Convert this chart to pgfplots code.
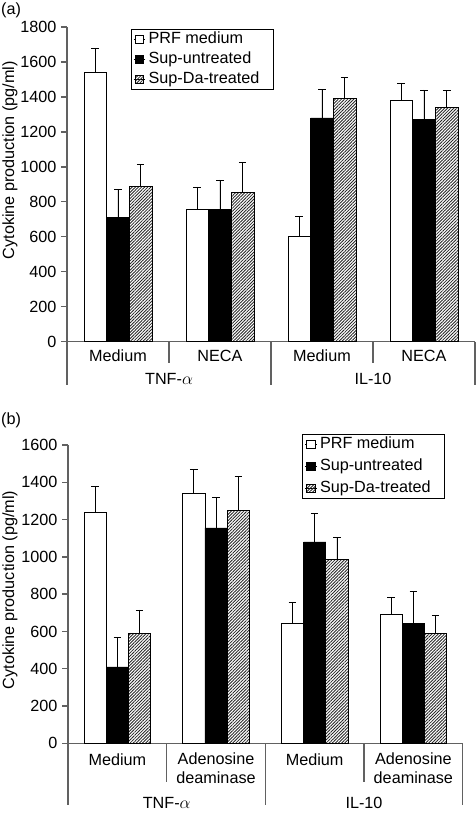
\documentclass[border=0pt]{standalone}
\usepackage{pgfplots}
\pgfplotsset{compat=1.18}
\usepackage{fontspec}
\setmainfont{Liberation Sans}
\usetikzlibrary{patterns.meta}
\definecolor{axgray}{gray}{0.38}
\newcommand{\fs}{\fontsize{16.2}{18}\selectfont}

\pgfplotsset{
  sqleg/.style={legend image code/.code={\path (-1.5pt,0pt) -- (10pt,0pt);\draw[##1,line width=0.7pt] (0pt,-4.2pt) rectangle (8.4pt,4.2pt);}},
  barA/.style={fill=white, draw=black, line width=0.7pt, sqleg},
  barB/.style={fill=black, draw=black, line width=0.7pt, sqleg},
  barC/.style={pattern={Lines[angle=45,distance=2.2pt,line width=0.85pt]}, pattern color=black!85, draw=black, line width=0.7pt, sqleg},
  common/.style={
    scale only axis, clip=false,
    ybar=0pt,
    axis x line=bottom, axis y line=left,
    axis line style={-, axgray, line width=1.3pt},
    xmin=-0.5, xmax=3.5, ymin=0,
    enlargelimits=false,
    xtick=\empty,
    ytick style={axgray, line width=1.3pt},
    major tick length=6pt, tick align=outside,
    /pgf/number format/assume math mode=true,
    /pgf/number format/1000 sep={},
    ticklabel style={font=\fs},
    yticklabel style={xshift=-1pt},
    label style={font=\fs},
    ylabel={Cytokine production (pg/ml)},
    error bars/y dir=plus, error bars/y explicit,
    error bars/error bar style={black, line width=0.8pt},
    error bars/error mark options={rotate=90, mark size=3.8pt, black, line width=0.8pt},
    legend style={draw=black, line width=0.7pt, font=\fs,
      inner xsep=2pt, inner ysep=1pt,
      nodes={inner xsep=3pt, inner ysep=1.5pt, text height=11.5pt, text depth=3.5pt},
      legend cell align=left},
  },
}

\pgfplotstableread{
x y e
0 1540 140
1 755 130
2 600 115
3 1380 100
}\aA
\pgfplotstableread{
x y e
0 710 160
1 755 170
2 1280 165
3 1270 170
}\aB
\pgfplotstableread{
x y e
0 890 125
1 855 170
2 1390 120
3 1340 95
}\aC
\pgfplotstableread{
x y e
0 1240 140
1 1340 130
2 645 110
3 690 95
}\bA
\pgfplotstableread{
x y e
0 410 160
1 1155 165
2 1080 155
3 645 170
}\bB
\pgfplotstableread{
x y e
0 590 125
1 1250 180
2 985 120
3 590 95
}\bC

\begin{document}
\begin{tikzpicture}[x=1pt,y=1pt]
\useasboundingbox (0,0) rectangle (475,814);
\node[anchor=west, font=\fs, inner sep=0pt] at (1,804) {(a)};
\node[anchor=west, font=\fs, inner sep=0pt] at (1,394) {(b)};

% Panel (a)
\begin{axis}[common,
  at={(67pt,472.3pt)}, anchor=south west,
  width=408pt, height=314.7pt,
  bar width=22.7pt,
  ymax=1800, ytick={0,200,...,1800},
  ylabel style={at={(axis description cs:-0.1397,0.577)}, anchor=center},
  legend style={at={(axis description cs:0.157,0.9936)}, anchor=north west, row sep=2pt},
]
\addplot+[barA] table[x=x,y=y,y error=e]{\aA};
\addplot+[barB] table[x=x,y=y,y error=e]{\aB};
\addplot+[barC] table[x=x,y=y,y error=e]{\aC};
\legend{PRF medium,Sup-untreated,Sup-Da-treated\hspace*{9pt}}
\draw[axgray, line width=1.3pt] (axis cs:-0.5,0) -- ++(0pt,-43pt);
\draw[axgray, line width=1.3pt] (axis cs:1.5,0) -- ++(0pt,-43pt);
\draw[axgray, line width=1.3pt] (axis cs:3.5,0) -- ++(0pt,-43pt);
\draw[axgray, line width=1.3pt] (axis cs:0.5,0) -- ++(0pt,-21pt);
\draw[axgray, line width=1.3pt] (axis cs:2.5,0) -- ++(0pt,-21pt);
\node[font=\fs] at ([yshift=-14.5pt]axis cs:0,0) {Medium};
\node[font=\fs] at ([yshift=-14.5pt]axis cs:1,0) {NECA};
\node[font=\fs] at ([yshift=-14.5pt]axis cs:2,0) {Medium};
\node[font=\fs] at ([yshift=-14.5pt]axis cs:3,0) {NECA};
\node[font=\fs] at ([yshift=-37.5pt]axis cs:0.5,0) {TNF-$\alpha$};
\node[font=\fs] at ([yshift=-37.5pt]axis cs:2.5,0) {IL-10};
\end{axis}

% Panel (b)
\begin{axis}[common,
  at={(68pt,70.7pt)}, anchor=south west,
  width=394.7pt, height=298.3pt,
  bar width=22.3pt,
  ymax=1600, ytick={0,200,...,1600},
  ylabel style={at={(axis description cs:-0.147,0.514)}, anchor=center},
  legend style={at={(axis description cs:0.594,1.036)}, anchor=north west, row sep=4pt},
]
\addplot+[barA] table[x=x,y=y,y error=e]{\bA};
\addplot+[barB] table[x=x,y=y,y error=e]{\bB};
\addplot+[barC] table[x=x,y=y,y error=e]{\bC};
\legend{PRF medium,Sup-untreated,Sup-Da-treated\hspace*{9pt}}
\draw[axgray, line width=1.3pt] (axis cs:-0.5,0) -- ++(0pt,-61.7pt);
\draw[axgray, line width=1.3pt] (axis cs:1.5,0) -- ++(0pt,-61.7pt);
\draw[axgray, line width=1.3pt] (axis cs:3.5,0) -- ++(0pt,-61.7pt);
\draw[axgray, line width=1.3pt] (axis cs:0.5,0) -- ++(0pt,-38.3pt);
\draw[axgray, line width=1.3pt] (axis cs:2.5,0) -- ++(0pt,-38.3pt);
\node[font=\fs] at ([yshift=-16pt]axis cs:0,0) {Medium};
\node[font=\fontsize{16.2}{18.7}\selectfont, align=center] at ([yshift=-25pt]axis cs:1,0) {Adenosine\\deaminase};
\node[font=\fs] at ([yshift=-16pt]axis cs:2,0) {Medium};
\node[font=\fontsize{16.2}{18.7}\selectfont, align=center] at ([yshift=-25pt]axis cs:3,0) {Adenosine\\deaminase};
\node[font=\fs] at ([yshift=-60pt]axis cs:0.5,0) {TNF-$\alpha$};
\node[font=\fs] at ([yshift=-60pt]axis cs:2.5,0) {IL-10};
\end{axis}
\end{tikzpicture}
\end{document}
